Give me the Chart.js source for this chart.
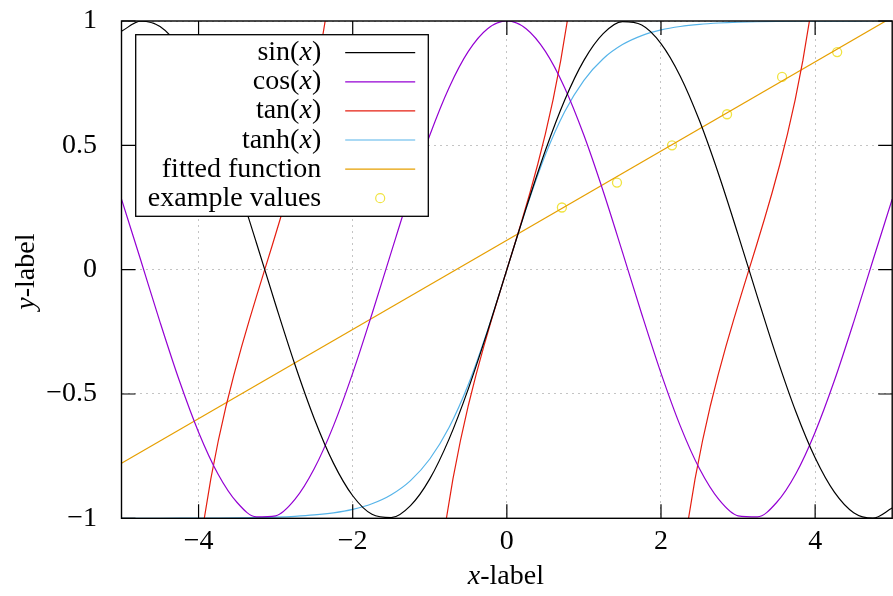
<!DOCTYPE html>
<html><head><meta charset="utf-8">
<script src="https://cdn.jsdelivr.net/npm/chart.js@4/dist/chart.umd.min.js"></script>
<style>
html,body{margin:0;padding:0;overflow:hidden;background:#fff;width:893px;height:596px}
#wrap{position:relative;width:898px;height:596px}
</style></head>
<body><div id="wrap"><canvas id="c"></canvas></div>
<script>
// ---- data ----
const gridX = [-5,-4.75,-4.5,-4.25,-4,-3.75,-3.5,-3.25,-3,-2.75,-2.5,-2.25,-2,-1.75,-1.5,-1.25,-1,-0.75,-0.5,-0.25,0,
  0.25,0.5,0.75,1,1.25,1.5,1.75,2,2.25,2.5,2.75,3,3.25,3.5,3.75,4,4.25,4.5,4.75,5];
const sinY = [0.9589,0.9993,0.9775,0.8950,0.7568,0.5716,0.3508,0.1082,-0.1411,-0.3817,-0.5985,-0.7781,-0.9093,-0.9840,-0.9975,-0.9490,-0.8415,-0.6816,-0.4794,-0.2474,0,
  0.2474,0.4794,0.6816,0.8415,0.9490,0.9975,0.9840,0.9093,0.7781,0.5985,0.3817,0.1411,-0.1082,-0.3508,-0.5716,-0.7568,-0.8950,-0.9775,-0.9993,-0.9589];
const cosY = [0.2837,0.0376,-0.2108,-0.4461,-0.6536,-0.8206,-0.9365,-0.9941,-0.9900,-0.9243,-0.8011,-0.6282,-0.4161,-0.1782,0.0707,0.3153,0.5403,0.7317,0.8776,0.9689,1,
  0.9689,0.8776,0.7317,0.5403,0.3153,0.0707,-0.1782,-0.4161,-0.6282,-0.8011,-0.9243,-0.9900,-0.9941,-0.9365,-0.8206,-0.6536,-0.4461,-0.2108,0.0376,0.2837];
const tanhY = [-0.9999,-0.9999,-0.9998,-0.9996,-0.9993,-0.9989,-0.9982,-0.9970,-0.9951,-0.9919,-0.9866,-0.9780,-0.9640,-0.9414,-0.9051,-0.8483,-0.7616,-0.6351,-0.4621,-0.2449,0,
  0.2449,0.4621,0.6351,0.7616,0.8483,0.9051,0.9414,0.9640,0.9780,0.9866,0.9919,0.9951,0.9970,0.9982,0.9989,0.9993,0.9996,0.9998,0.9999,0.9999];
const tanX = [-4.0416,-3.9416,-3.8416,-3.7416,-3.6416,-3.5416,-3.4416,-3.3416,-3.2416,-3.1416,-3.0416,-2.9416,-2.8416,-2.7416,-2.6416,-2.5416,-2.4416,-2.3416,-2.2416,
  -1.5708,
  -0.9,-0.8,-0.7,-0.6,-0.5,-0.4,-0.3,-0.2,-0.1,0,0.1,0.2,0.3,0.4,0.5,0.6,0.7,0.8,0.9,
  1.5708,
  2.2416,2.3416,2.4416,2.5416,2.6416,2.7416,2.8416,2.9416,3.0416,3.1416,3.2416,3.3416,3.4416,3.5416,3.6416,3.7416,3.8416,3.9416,4.0416];
const tanY = [-1.2602,-1.0296,-0.8423,-0.6841,-0.5463,-0.4228,-0.3093,-0.2027,-0.1003,0,0.1003,0.2027,0.3093,0.4228,0.5463,0.6841,0.8423,1.0296,1.2602,
  null,
  -1.2602,-1.0296,-0.8423,-0.6841,-0.5463,-0.4228,-0.3093,-0.2027,-0.1003,0,0.1003,0.2027,0.3093,0.4228,0.5463,0.6841,0.8423,1.0296,1.2602,
  null,
  -1.2602,-1.0296,-0.8423,-0.6841,-0.5463,-0.4228,-0.3093,-0.2027,-0.1003,0,0.1003,0.2027,0.3093,0.4228,0.5463,0.6841,0.8423,1.0296,1.2602];
const fitX = [-5, 5];
const fitY = [-0.779, 1.015];
const exX = [0.714, 1.429, 2.143, 2.857, 3.571, 4.286];
const exY = [0.25, 0.35, 0.5, 0.625, 0.775, 0.875];
const xTickValues = [-4, -2, 0, 2, 4];
const yTickValues = [-1, -0.5, 0, 0.5, 1];
const seriesLabels = ['sin(x)', 'cos(x)', 'tan(x)', 'tanh(x)', 'fitted function', 'example values'];
const xTitle = 'x-label';
const yTitle = 'y-label';

// ---- helpers ----
const FAMILY = "'Liberation Serif', 'Times New Roman', serif";
const FS = 28;
const pts = (xs, ys) => xs.map((x, i) => ({x: x, y: ys[i]}));
const fmt = v => (v < 0 ? '\u2212' + Math.abs(v) : String(v));

function richParts(text) {
  const m = text.match(/^(.*\()([xy])(\))$/);
  if (m) return [[m[1], false], [m[2], true], [m[3], false]];
  const n = text.match(/^([xy])(-.*)$/);
  if (n) return [[n[1], true], [n[2], false]];
  return [[text, false]];
}
function richWidth(ctx, parts) {
  let w = 0;
  parts.forEach(([t, it]) => { ctx.font = (it ? 'italic ' : '') + FS + 'px ' + FAMILY; w += ctx.measureText(t).width; });
  return w;
}
function drawRich(ctx, text, x, y, align) {
  const parts = richParts(text);
  const w = richWidth(ctx, parts);
  let cx = align === 'right' ? x - w : (align === 'center' ? x - w / 2 : x);
  ctx.textAlign = 'left';
  ctx.textBaseline = 'alphabetic';
  parts.forEach(([t, it]) => {
    ctx.font = (it ? 'italic ' : '') + FS + 'px ' + FAMILY;
    ctx.fillText(t, cx, y);
    cx += ctx.measureText(t).width;
  });
}

const framePlugin = {
  id: 'frame',
  afterDatasetsDraw(chart) {
    const {ctx, chartArea: a, scales: {x, y}} = chart;
    ctx.save();
    ctx.strokeStyle = '#000';
    ctx.lineWidth = 1.2;
    ctx.beginPath();
    xTickValues.forEach(v => {
      const px = x.getPixelForValue(v);
      ctx.moveTo(px, a.bottom); ctx.lineTo(px, a.bottom - 14);
      ctx.moveTo(px, a.top); ctx.lineTo(px, a.top + 14);
    });
    yTickValues.forEach(v => {
      const py = y.getPixelForValue(v);
      ctx.moveTo(a.left, py); ctx.lineTo(a.left + 14, py);
      ctx.moveTo(a.right, py); ctx.lineTo(a.right - 14, py);
    });
    ctx.stroke();
    ctx.lineWidth = 1.4;
    ctx.strokeRect(a.left, a.top, a.right - a.left, a.bottom - a.top);

    // legend box
    const lx = a.left + 14.2, ly = a.top + 13.7, lw = 292.6, lh = 181.6;
    ctx.fillStyle = '#fff';
    ctx.fillRect(lx, ly, lw, lh);
    ctx.lineWidth = 1.3;
    ctx.strokeStyle = '#000';
    ctx.strokeRect(lx, ly, lw, lh);
    chart.data.datasets.forEach((ds, i) => {
      const rowY = ly + 18 + i * 29.1;
      ctx.fillStyle = '#000';
      drawRich(ctx, ds.label, lx + 185.5, rowY + 7.5, 'right');
      if (ds.showLine === false) {
        ctx.beginPath();
        ctx.strokeStyle = ds.pointBorderColor;
        ctx.lineWidth = 1.2;
        ctx.arc(lx + 244.5, rowY, 4.5, 0, Math.PI * 2);
        ctx.stroke();
      } else {
        ctx.beginPath();
        ctx.strokeStyle = ds.borderColor;
        ctx.lineWidth = 1.2;
        ctx.moveTo(lx + 209.5, rowY);
        ctx.lineTo(lx + 279.5, rowY);
        ctx.stroke();
      }
    });

    // axis titles
    ctx.fillStyle = '#000';
    drawRich(ctx, xTitle, (a.left + a.right) / 2 - 1, 583.5, 'center');
    ctx.save();
    ctx.translate(33.5, (a.top + a.bottom) / 2 + 2);
    ctx.rotate(-Math.PI / 2);
    drawRich(ctx, yTitle, 0, 0, 'center');
    ctx.restore();
    ctx.restore();
  }
};

const zeroPad = s => { s.paddingTop = 0; s.paddingBottom = 0; s.paddingLeft = 0; s.paddingRight = 0; };
const tickFont = {family: FAMILY, size: FS};
new Chart(document.getElementById('c'), {
  type: 'line',
  data: {
    datasets: [
      {label: seriesLabels[0], data: pts(gridX, sinY), borderColor: '#000000', borderWidth: 1.2, pointRadius: 0, cubicInterpolationMode: 'monotone'},
      {label: seriesLabels[1], data: pts(gridX, cosY), borderColor: '#9400d3', borderWidth: 1.2, pointRadius: 0, cubicInterpolationMode: 'monotone'},
      {label: seriesLabels[2], data: pts(tanX, tanY), borderColor: '#e51e10', borderWidth: 1.2, pointRadius: 0, spanGaps: false, tension: 0},
      {label: seriesLabels[3], data: pts(gridX, tanhY), borderColor: '#56b4e9', borderWidth: 1.2, pointRadius: 0, cubicInterpolationMode: 'monotone'},
      {label: seriesLabels[4], data: pts(fitX, fitY), borderColor: '#e69f00', borderWidth: 1.2, pointRadius: 0, tension: 0},
      {label: seriesLabels[5], data: pts(exX, exY), showLine: false, pointStyle: 'circle', pointRadius: 4.5,
        pointBorderColor: '#f0e442', pointBackgroundColor: 'rgba(0,0,0,0)', pointBorderWidth: 1.3, borderColor: '#f0e442'}
    ]
  },
  options: {
    responsive: true,
    maintainAspectRatio: false,
    animation: false,
    layout: {padding: {top: 21, right: 1.2, left: 0, bottom: 0}},
    plugins: {legend: {display: false}, tooltip: {enabled: false}, title: {display: false}},
    scales: {
      x: {
        type: 'linear', min: -5, max: 5,
        afterBuildTicks: s => { s.ticks = xTickValues.map(v => ({value: v})); },
        afterFit: s => { s.height = 77.7; zeroPad(s); },
        ticks: {font: tickFont, color: '#000', padding: 7, maxRotation: 0, autoSkip: false, callback: v => fmt(v)},
        grid: {color: '#c4c4c4', lineWidth: 1, drawTicks: false},
        border: {display: false, dash: [2, 4]}
      },
      y: {
        type: 'linear', min: -1, max: 1,
        afterBuildTicks: s => { s.ticks = yTickValues.map(v => ({value: v})); },
        afterFit: s => { s.width = 121.5; zeroPad(s); },
        ticks: {font: tickFont, color: '#000', padding: 24.5, autoSkip: false, callback: v => fmt(v)},
        grid: {color: '#c4c4c4', lineWidth: 1, drawTicks: false},
        border: {display: false, dash: [2, 4]}
      }
    }
  },
  plugins: [framePlugin]
});
</script>
</body></html>
